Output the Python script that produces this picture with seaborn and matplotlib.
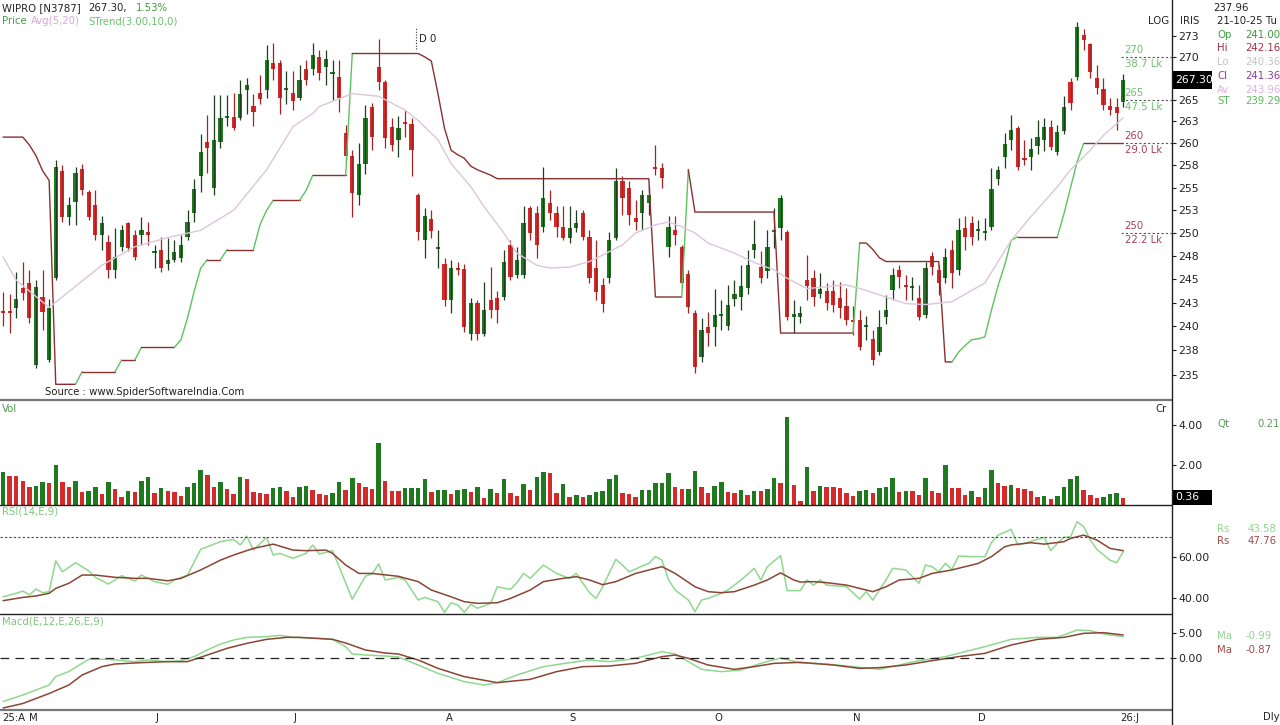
import matplotlib
matplotlib.use("Agg")
import matplotlib.pyplot as plt
from matplotlib.lines import Line2D
from matplotlib.patches import Rectangle
from matplotlib.ticker import NullLocator
import numpy as np
import seaborn as sns

# ---- daily candles, WIPRO, Apr-25 .. Dec-25 ----
opens = [241.6, 241.6, 241.9, 244.1, 244.6, 236.0, 243.1, 236.5, 245.1, 256.9,
         251.7, 253.4, 257.1, 254.5, 253.1, 249.8, 249.0, 246.0, 248.5, 251.1,
         249.8, 249.8, 250.1, 247.8, 248.2, 246.6, 247.1, 247.3, 249.6, 252.2,
         256.3, 260.1, 255.0, 260.1, 262.9, 263.0, 262.9, 266.1, 264.3, 265.8,
         266.1, 269.3, 269.3, 266.1, 265.8, 265.2, 268.6, 268.6, 270.0, 268.8,
         268.0, 267.6, 261.2, 258.5, 254.2, 257.6, 264.1, 268.8, 267.0, 261.8,
         260.4, 262.4, 262.2, 254.2, 249.2, 251.5, 248.3, 246.6, 242.8, 246.2,
         246.1, 239.2, 242.5, 239.2, 242.8, 243.0, 243.1, 248.7, 245.4, 245.4,
         252.8, 252.2, 250.7, 253.3, 252.2, 250.7, 249.5, 250.5, 252.2, 249.6,
         246.2, 244.4, 245.1, 249.5, 255.8, 255.0, 251.6, 252.2, 253.3, 257.3,
         257.2, 248.5, 250.3, 248.5, 245.6, 241.4, 236.8, 239.9, 239.9, 241.1,
         240.0, 242.9, 243.1, 244.1, 248.2, 246.3, 245.9, 250.1, 250.5, 250.1,
         241.0, 241.00, 244.9, 245.1, 243.4, 243.7, 243.7, 243.0, 242.2, 240.7,
         240.7, 239.9, 238.7, 237.3, 241.0, 243.8, 246.0, 244.4, 244.1, 243.0,
         241.2, 247.5, 246.0, 245.1, 248.2, 246.0, 250.5, 251.1, 250.2, 250.0,
         250.7, 256.0, 258.4, 260.4, 261.7, 258.3, 258.4, 259.7, 260.4, 261.9,
         259.0, 261.4, 267.1, 267.6, 272.6, 271.5, 267.5, 266.2, 264.3, 264.1,
         264.7]
highs = [243.6, 243.4, 245.8, 246.8, 246.0, 244.9, 246.0, 242.9, 258.1, 257.5,
         254.0, 257.3, 257.7, 254.7, 254.7, 251.9, 249.8, 250.5, 250.9, 251.2,
         250.3, 251.7, 251.2, 248.7, 249.6, 249.4, 249.2, 249.8, 252.5, 256.0,
         261.0, 263.2, 265.5, 265.5, 265.5, 265.8, 267.3, 267.5, 265.6, 267.9,
         271.4, 271.6, 269.6, 268.4, 268.4, 269.0, 269.6, 271.6, 270.8, 270.8,
         269.6, 269.6, 262.1, 259.2, 260.0, 264.4, 264.6, 272.1, 267.3, 262.9,
         263.1, 263.8, 262.9, 254.4, 252.8, 252.5, 250.3, 247.3, 247.1, 246.8,
         246.6, 243.0, 242.8, 244.7, 246.3, 243.7, 248.2, 249.2, 248.5, 253.0,
         253.0, 253.0, 257.3, 254.7, 253.0, 253.0, 253.0, 252.5, 252.5, 250.3,
         249.2, 245.1, 250.1, 257.2, 256.3, 255.8, 253.6, 254.7, 255.2, 259.8,
         257.8, 251.9, 251.9, 248.7, 246.0, 241.7, 240.9, 241.5, 243.9, 242.8,
         244.4, 244.9, 246.5, 248.2, 251.4, 248.0, 250.3, 252.7, 254.2, 250.3,
         242.8, 242.16, 247.6, 246.0, 245.7, 244.6, 244.9, 244.7, 244.1, 242.2,
         241.7, 241.1, 239.6, 241.7, 243.3, 246.2, 246.5, 245.5, 245.2, 244.4,
         246.8, 247.9, 246.5, 248.4, 249.2, 251.6, 251.9, 251.9, 251.4, 251.6,
         257.2, 257.4, 261.2, 263.2, 262.0, 260.4, 260.6, 262.6, 262.9, 262.6,
         262.1, 265.4, 267.5, 274.1, 273.3, 271.7, 269.0, 267.5, 265.2, 265.2,
         268.0]
lows = [240.0, 239.3, 240.9, 242.8, 240.4, 235.7, 239.6, 236.3, 244.9, 251.2,
        250.9, 250.9, 254.2, 251.4, 249.2, 248.2, 245.1, 245.1, 248.0, 248.0,
        247.1, 248.7, 248.7, 246.2, 245.8, 246.0, 246.9, 246.9, 249.2, 251.2,
        254.5, 256.6, 254.2, 259.5, 262.0, 261.5, 262.6, 263.4, 262.0, 264.5,
        265.2, 267.3, 263.4, 264.5, 263.8, 265.0, 266.7, 267.9, 267.3, 266.7,
        265.0, 263.6, 258.1, 251.8, 253.1, 256.5, 259.2, 266.1, 259.5, 259.1,
        258.4, 260.7, 256.3, 249.2, 247.3, 249.5, 246.2, 242.2, 241.4, 245.4,
        239.4, 238.6, 238.6, 239.0, 240.9, 240.4, 242.8, 244.9, 245.1, 245.1,
        249.2, 247.3, 250.1, 251.4, 249.6, 249.2, 248.9, 250.1, 249.2, 244.6,
        242.8, 241.5, 244.6, 249.2, 252.0, 250.9, 250.3, 250.3, 252.0, 256.4,
        255.0, 247.4, 248.7, 244.1, 241.4, 235.2, 236.3, 238.0, 238.0, 239.6,
        239.6, 242.2, 241.7, 243.4, 247.3, 244.6, 245.1, 248.4, 249.2, 240.7,
        239.3, 240.36, 242.8, 242.2, 243.0, 241.7, 241.5, 240.9, 240.1, 239.1,
        237.5, 238.6, 236.0, 237.0, 240.2, 242.8, 244.1, 242.8, 242.8, 240.7,
        240.9, 245.5, 243.3, 244.6, 244.1, 245.4, 248.2, 248.7, 249.2, 249.2,
        250.3, 255.3, 257.2, 259.2, 257.0, 257.5, 257.0, 258.8, 259.1, 259.2,
        258.7, 261.0, 263.8, 267.3, 270.8, 267.5, 265.6, 263.8, 263.2, 261.5,
        264.1]
closes = [241.4, 241.4, 242.9, 243.5, 240.9, 244.2, 241.5, 241.9, 257.3, 251.7,
          253.1, 256.6, 254.7, 251.8, 249.8, 251.1, 246.0, 247.4, 250.3, 248.4,
          247.4, 250.3, 249.8, 248.0, 246.2, 247.1, 247.9, 248.7, 251.2, 254.9,
          259.0, 259.5, 260.4, 262.9, 263.1, 261.7, 265.6, 266.7, 263.6, 265.1,
          269.6, 268.6, 265.2, 266.3, 264.8, 267.3, 267.3, 270.2, 268.1, 269.8,
          268.2, 265.2, 258.5, 254.4, 257.6, 262.9, 260.7, 267.0, 260.6, 259.8,
          261.7, 262.2, 259.2, 250.1, 251.9, 250.2, 248.5, 242.8, 246.2, 246.0,
          239.9, 242.5, 239.2, 241.7, 241.7, 241.7, 246.8, 245.2, 247.1, 251.1,
          250.0, 248.7, 253.9, 252.2, 250.7, 249.5, 250.5, 251.1, 249.6, 245.1,
          243.6, 242.4, 249.2, 255.8, 253.9, 252.0, 251.2, 254.2, 254.2, 257.1,
          256.1, 250.6, 249.8, 244.6, 242.0, 235.8, 239.6, 239.3, 241.2, 241.3,
          242.3, 243.4, 244.3, 246.5, 248.8, 245.1, 248.5, 250.3, 253.9, 241.0,
          241.3, 241.36, 244.3, 243.1, 243.9, 242.5, 242.3, 241.9, 240.7, 240.5,
          237.8, 240.1, 236.5, 239.9, 241.7, 245.4, 245.2, 244.2, 244.3, 241.0,
          246.2, 246.3, 244.6, 247.4, 245.7, 250.3, 249.6, 249.6, 250.4, 250.2,
          254.8, 257.0, 259.9, 261.5, 257.3, 258.1, 259.4, 260.7, 261.9, 259.6,
          261.3, 264.2, 264.6, 273.5, 272.0, 268.2, 266.3, 264.4, 263.8, 263.5,
          267.3]
volume = [1.67, 1.47, 1.45, 1.22, 0.92, 0.94, 1.17, 1.08, 2.00, 1.17,
          0.92, 1.22, 0.67, 0.72, 0.92, 0.55, 1.17, 0.80, 0.42, 0.72,
          0.63, 1.22, 1.38, 0.58, 0.85, 0.68, 0.67, 0.47, 0.92, 1.08,
          1.77, 1.52, 0.92, 1.13, 0.80, 0.55, 1.42, 1.30, 0.63, 0.62,
          0.55, 0.85, 0.88, 0.72, 0.42, 0.92, 0.93, 0.75, 0.55, 0.50,
          0.58, 1.17, 0.75, 1.35, 1.08, 0.92, 0.80, 3.08, 1.22, 0.72,
          0.70, 0.85, 0.86, 0.87, 1.30, 0.63, 0.75, 0.76, 0.55, 0.75,
          0.80, 0.63, 0.92, 0.33, 0.80, 0.58, 1.30, 0.58, 0.43, 1.05,
          0.75, 1.38, 1.67, 1.58, 0.58, 1.05, 0.38, 0.50, 0.38, 0.52,
          0.63, 0.68, 1.30, 1.52, 0.58, 0.57, 0.38, 0.75, 0.76, 1.08,
          1.09, 1.58, 0.92, 0.80, 0.81, 1.72, 0.92, 0.58, 0.93, 1.13,
          0.63, 0.62, 0.75, 0.50, 0.72, 0.71, 0.80, 1.35, 1.08, 4.38,
          1.00, 0.21, 1.88, 0.72, 0.97, 0.92, 0.91, 0.85, 0.58, 0.47,
          0.72, 0.73, 0.58, 0.85, 0.88, 1.33, 0.63, 0.72, 0.68, 0.50,
          1.33, 0.68, 0.58, 2.00, 0.85, 0.84, 0.52, 0.72, 0.38, 0.85,
          1.77, 1.08, 0.97, 1.00, 0.85, 0.80, 0.68, 0.42, 0.43, 0.30,
          0.47, 0.88, 1.30, 1.47, 0.75, 0.50, 0.35, 0.42, 0.55, 0.58,
          0.36]

# supertrend(3,10) value under each candle
supertrend = [260.7, 260.7, 260.7, 260.7, 259.8, 258.6, 256.9, 255.8, 234.0, 234.0,
              234.0, 234.0, 235.3, 235.3, 235.3, 235.3, 235.3, 235.3, 236.5, 236.5,
              236.5, 237.8, 237.8, 237.8, 237.8, 237.8, 237.8, 238.6, 240.9, 243.7,
              246.2, 247.1, 247.1, 247.1, 248.2, 248.2, 248.2, 248.2, 248.2, 250.9,
              252.5, 253.6, 253.6, 253.6, 253.6, 253.6, 254.7, 256.4, 256.4, 256.4,
              256.4, 256.4, 256.4, 270.4, 270.4, 270.4, 270.4, 270.4, 270.4, 270.4,
              270.4, 270.4, 270.4, 270.4, 270.0, 269.5, 265.7, 261.7, 259.2, 258.7,
              258.3, 257.4, 257.0, 256.7, 256.4, 256.0, 256.0, 256.0, 256.0, 256.0,
              256.0, 256.0, 256.0, 256.0, 256.0, 256.0, 256.0, 256.0, 256.0, 256.0,
              256.0, 256.0, 256.0, 256.0, 256.0, 256.0, 256.0, 256.0, 256.0, 243.1,
              243.1, 243.1, 243.1, 243.1, 257.0, 252.3, 252.3, 252.3, 252.3, 252.3,
              252.3, 252.3, 252.3, 252.3, 252.3, 252.3, 252.3, 252.3, 239.3, 239.3,
              239.3, 239.3, 239.3, 239.3, 239.3, 239.3, 239.3, 239.3, 239.3, 239.3,
              248.9, 248.9, 248.2, 247.3, 246.9, 246.9, 246.9, 246.9, 246.9, 246.9,
              246.9, 246.9, 246.9, 236.3, 236.3, 237.3, 238.0, 238.6, 238.7, 238.9,
              241.7, 244.3, 246.5, 249.2, 249.6, 249.6, 249.6, 249.6, 249.6, 249.6,
              249.6, 252.1, 255.0, 257.9, 260.0, 260.0, 260.0, 260.0, 260.0, 260.0,
              260.0]

# Avg(5,20) read at selected candles
avg_idx = [0, 2, 7, 15, 20, 25, 30, 35, 40, 44, 47, 48, 53, 57, 61, 63, 66, 68, 71, 73,
           76, 78, 81, 83, 86, 89, 91, 94, 96, 99, 101, 103, 105, 107, 111, 114, 117, 119,
           122, 125, 128, 131, 134, 137, 140, 144, 149, 153, 156, 160, 162, 165, 167, 170]
avg_val = [247.4, 244.9, 242.0, 246.5, 248.5, 249.5, 250.3, 252.5, 257.0, 261.9,
           263.4, 264.2, 265.7, 265.4, 263.8, 262.6, 260.4, 257.7, 255.1, 252.9,
           250.0, 247.8, 246.5, 246.2, 246.3, 246.9, 247.6, 248.7, 250.0, 250.9,
           251.2, 250.7, 250.0, 248.9, 247.8, 246.8, 246.0, 245.1, 244.0, 244.2,
           244.4, 243.8, 243.1, 242.4, 242.3, 242.6, 244.6, 249.2, 251.8, 255.1,
           257.0, 259.2, 260.9, 262.9]

# RSI(14) and its signal
rsi_idx = [0, 2, 3, 4, 5, 6, 7, 8, 9, 11, 13, 14, 16, 18, 20, 21, 23, 25, 26, 28,
           30, 31, 33, 35, 36, 37, 38, 40, 41, 42, 44, 46, 47, 48, 50, 51, 53, 55, 56, 57,
           58, 60, 61, 63, 64, 66, 67, 68, 69, 70, 71, 72, 74, 75, 77, 78, 79, 80, 82, 84,
           86, 87, 88, 89, 90, 91, 93, 94, 95, 97, 98, 99, 100, 101, 102, 104, 105, 106, 107, 109,
           110, 112, 114, 115, 116, 118, 119, 121, 122, 123, 124, 125, 128, 130, 131, 132, 134, 135, 137, 139,
           140, 141, 142, 143, 144, 145, 147, 149, 150, 151, 153, 154, 155, 158, 159, 160, 161, 162, 163, 164,
           165, 166, 168, 169, 170]
rsi_val = [40.6, 42.3, 43.4, 41.5, 44.4, 42.6, 43.1, 58.2, 52.8, 57.2,
           53.3, 50.1, 46.8, 50.9, 48.3, 51.2, 48.0, 46.7, 48.8, 51.2,
           63.8, 65.0, 67.5, 68.6, 65.9, 70.2, 63.4, 69.6, 61.0, 61.8,
           59.4, 61.8, 65.9, 61.5, 63.1, 55.3, 39.4, 50.7, 51.7, 56.6,
           48.8, 50.0, 48.8, 39.0, 40.3, 38.2, 33.0, 37.7, 36.6, 33.0,
           36.9, 35.0, 37.4, 45.5, 44.2, 47.5, 52.0, 49.6, 56.1, 52.0,
           49.6, 52.0, 47.2, 42.6, 39.8, 45.5, 58.9, 56.1, 52.8, 55.6,
           56.9, 60.2, 58.5, 48.8, 43.9, 39.0, 33.3, 39.0, 39.8, 42.3,
           43.9, 48.8, 54.5, 48.8, 55.3, 60.7, 43.6, 43.6, 48.8, 46.3,
           48.8, 46.3, 45.5, 39.5, 43.1, 39.0, 48.8, 54.5, 53.7, 47.2,
           56.1, 55.3, 52.8, 56.9, 54.0, 60.5, 60.2, 60.2, 67.0, 70.7,
           73.5, 65.9, 66.7, 69.6, 63.1, 66.7, 69.6, 69.9, 77.2, 74.8,
           68.3, 63.7, 58.5, 57.2, 62.6]
rsig_idx = [0, 3, 5, 7, 8, 10, 12, 14, 17, 20, 22, 25, 27, 30, 33, 35, 38, 41, 44, 46,
            49, 50, 52, 54, 56, 60, 63, 65, 68, 70, 72, 75, 77, 80, 82, 85, 87, 89, 91, 93,
            96, 99, 100, 102, 105, 107, 109, 111, 114, 116, 118, 120, 121, 123, 125, 128, 130, 132, 134, 136,
            139, 141, 144, 146, 148, 150, 152, 153, 156, 158, 161, 162, 164, 166, 168, 170]
rsig_val = [38.7, 40.3, 41.0, 42.3, 44.7, 47.2, 51.2, 51.2, 50.1, 49.6,
            49.6, 48.4, 49.6, 53.7, 58.5, 61.0, 64.2, 66.3, 63.4, 63.1,
            63.4, 61.8, 56.1, 52.0, 52.0, 50.6, 48.0, 43.9, 40.6, 38.2,
            37.4, 37.7, 39.8, 43.9, 48.0, 49.6, 50.4, 48.8, 46.5, 48.0,
            52.0, 54.5, 55.3, 52.0, 45.5, 43.1, 42.6, 43.1, 46.3, 48.8,
            52.3, 48.8, 47.8, 48.0, 47.5, 46.3, 44.7, 43.1, 45.5, 48.8,
            49.6, 52.0, 53.7, 55.3, 56.9, 60.2, 65.0, 65.9, 67.0, 66.3,
            67.5, 69.1, 70.7, 68.3, 64.2, 63.1]

# MACD(12,26,9) and signal
macd_idx = [0, 3, 5, 7, 8, 10, 12, 13, 16, 20, 22, 25, 27, 29, 31, 33, 35, 37, 40, 42,
            44, 48, 50, 52, 53, 55, 58, 60, 63, 66, 70, 73, 75, 78, 82, 86, 89, 92, 95, 97,
            100, 102, 104, 106, 109, 112, 115, 118, 121, 125, 129, 133, 136, 139, 143, 146, 149, 153, 157, 160,
            163, 165, 167, 170]
macd_val = [-8.7, -7.4, -6.4, -5.4, -3.7, -2.7, -1.07, -0.27, -0.27, -0.73,
            -0.4, -0.73, -0.53, 0.27, 1.6, 2.8, 3.6, 4.13, 4.27, 4.53,
            4.13, 3.93, 3.73, 2.27, 0.8, 0.6, 0.4, 0.2, -1.4, -3.07,
            -4.73, -5.4, -4.93, -3.4, -1.73, -0.93, -0.4, -0.73, -0.27, 0.27,
            1.27, 0.8, -0.73, -2.27, -2.73, -2.4, -1.07, 0.0, -0.99, -1.2,
            -1.73, -2.27, -1.4, -0.53, 0.27, 1.27, 2.27, 3.73, 4.13, 4.13,
            5.6, 5.47, 4.8, 4.27]
msig_idx = [0, 3, 5, 7, 10, 12, 15, 17, 21, 25, 28, 31, 34, 37, 40, 43, 45, 50, 52, 55,
            58, 60, 63, 66, 70, 75, 80, 84, 88, 92, 96, 100, 102, 104, 107, 111, 114, 117, 121, 126,
            130, 133, 137, 141, 145, 149, 153, 157, 161, 164, 167, 170]
msig_val = [-10.0, -9.1, -8.1, -7.1, -5.4, -3.4, -1.73, -1.2, -0.93, -0.73,
            -0.73, 0.6, 1.93, 2.93, 3.73, 4.13, 4.13, 3.73, 3.0, 1.6,
            1.0, 0.8, -0.4, -2.07, -3.73, -4.93, -4.27, -2.73, -1.73, -1.6,
            -1.07, 0.27, 0.6, -0.07, -1.4, -2.27, -1.73, -1.07, -0.87, -1.4,
            -2.07, -1.93, -1.4, -0.53, 0.27, 0.93, 2.6, 3.73, 4.13, 4.93,
            5.07, 4.6]

month_pos = [1.7, 4.6, 23.4, 44.3, 67.7, 86.5, 108.5, 129.6, 148.6, 171.0]
month_lab = ["25:A", "M", "J", "J", "A", "S", "O", "N", "D", "26:J"]

price_ticks = [235, 237.5, 240, 242.5, 245, 247.5, 250, 252.5, 255, 257.5, 260, 262.5, 265, 270, 272.5]
price_labels = ["235", "238", "240", "243", "245", "248", "250", "253", "255", "258",
                "260", "263", "265", "270", "273"]

levels = [270, 265, 260, 250]
level_qty = ["38.7 Lk", "47.5 Lk", "29.0 Lk", "22.2 Lk"]

info_lab = ["Op", "Hi", "Lo", "Cl", "Av", "ST"]
info_val = ["241.00", "242.16", "240.36", "241.36", "243.96", "239.29"]

# ---- styling ----
sns.set_style("white")
plt.rcParams['font.family'] = ['DejaVu Sans']
FS = 7.3
GREEN, RED = '#1f7a1f', '#d42a2a'
ST_UP, ST_DN = '#5cc45c', '#8b2f2f'
LT_GREEN, BROWN = '#8fd88f', '#8b4535'

W, H = 1280, 725
fig = plt.figure(figsize=(W / 100, H / 100), dpi=100)
fig.patch.set_facecolor('white')


def panel(top, bottom):
    return fig.add_axes([0, 1 - bottom / H, 1172 / W, (bottom - top) / H])


def put(x, y, s, color='#222222', size=FS, ha='left', **kw):
    fig.text(x / W, 1 - y / H, s, color=color, fontsize=size, ha=ha, va='center', **kw)


ax_p = panel(0, 400)
ax_v = panel(400, 505)
ax_r = panel(505, 614)
ax_m = panel(614, 710)

n = len(closes)
xs = np.arange(n)
o, h, l, c = (np.array(a) for a in (opens, highs, lows, closes))
up = c >= o
cols = np.where(up, GREEN, RED)
wick_cols = np.where(up, '#1e3e1e', '#a82020')

# price panel
ax_p.set_yscale('log')
ax_p.vlines(xs, l, h, colors=wick_cols, lw=0.9)
ax_p.bar(xs, np.maximum(np.abs(c - o), 0.12), bottom=np.minimum(o, c),
         width=0.64, color=cols, linewidth=0)

st = np.array(supertrend)
rising = np.diff(st) > 0
start = 0
for k in range(1, len(rising) + 1):
    if k == len(rising) or rising[k] != rising[start]:
        ax_p.plot(xs[start:k + 1], st[start:k + 1],
                  color=ST_UP if rising[start] else ST_DN, lw=1.0)
        start = k

sns.lineplot(x=avg_idx, y=avg_val, ax=ax_p, color='#dcc6dc', lw=1.0,
             estimator=None, sort=False)

for lv, q in zip(levels, level_qty):
    clr = '#6cc06c' if lv >= 265 else '#a8405a'
    ax_p.hlines(lv, 169.6, 177.4, colors='#555555', lw=0.8, linestyles=(0, (2, 2)))
    ax_p.annotate(str(lv), (170.2, lv), xytext=(0, 1.5), textcoords='offset points',
                  color=clr, fontsize=FS, va='bottom')
    ax_p.annotate(q, (170.2, lv), xytext=(0, -1.5), textcoords='offset points',
                  color=clr, fontsize=FS, va='top')

ax_p.vlines(62.7, 270.9, 273.4, colors='#333333', lw=0.8, linestyles=(0, (1, 1.5)))
ax_p.text(63.1, 272.1, "D 0", fontsize=FS, va='center', color='#222222')

ax_p.set_ylim(232.4, 276.8)
ax_p.yaxis.set_minor_locator(NullLocator())
ax_p.set_yticks(price_ticks)
ax_p.set_yticklabels(price_labels)

# volume panel
vol = np.array(volume)
vcols = [GREEN] + [GREEN if vol[i] >= vol[i - 1] else RED for i in range(1, n)]
ax_v.bar(xs, vol, width=0.68, color=vcols, linewidth=0)
ax_v.set_ylim(0, 5.25)
ax_v.set_yticks([2, 4])
ax_v.set_yticklabels(["2.00", "4.00"])

# RSI panel
sns.lineplot(x=rsi_idx, y=rsi_val, ax=ax_r, color=LT_GREEN, lw=1.1, estimator=None, sort=False)
sns.lineplot(x=rsig_idx, y=rsig_val, ax=ax_r, color=BROWN, lw=1.1, estimator=None, sort=False)
ax_r.axhline(70, color='#444444', lw=0.8, ls=(0, (2, 2)))
ax_r.set_ylim(32.2, 85.4)
ax_r.set_yticks([40, 60])
ax_r.set_yticklabels(["40.00", "60.00"])

# MACD panel
sns.lineplot(x=macd_idx, y=macd_val, ax=ax_m, color=LT_GREEN, lw=1.1, estimator=None, sort=False)
sns.lineplot(x=msig_idx, y=msig_val, ax=ax_m, color=BROWN, lw=1.1, estimator=None, sort=False)
ax_m.axhline(0, color='#222222', lw=0.9, ls=(0, (7, 5)))
ax_m.set_ylim(-10.4, 8.8)
ax_m.set_yticks([0, 5])
ax_m.set_yticklabels(["0.00", "5.00"])

for ax in (ax_p, ax_v, ax_r, ax_m):
    ax.set_xlim(-0.46, 177.4)
    ax.set_facecolor('none')
    ax.set_xlabel('')
    ax.set_ylabel('')
    for sp in ax.spines.values():
        sp.set_visible(False)
    ax.yaxis.tick_right()
    ax.tick_params(axis='y', which='both', direction='out', length=3, width=0.8,
                   pad=1.5, labelsize=7.8, colors='#222222')
    ax.tick_params(axis='x', bottom=False, labelbottom=False)

ax_m.set_xticks(month_pos)
ax_m.set_xticklabels(month_lab)
ax_m.tick_params(axis='x', bottom=True, labelbottom=True, length=0, pad=2.5,
                 labelsize=FS, colors='#222222')

# frame lines
for y, clr, lw in ((400, '#777777', 1.6), (505, '#222222', 1.0),
                   (614, '#222222', 1.0), (710, '#777777', 1.6)):
    fig.add_artist(Line2D([0, 1172 / W], [1 - y / H] * 2, color=clr, lw=lw))
fig.add_artist(Line2D([1172 / W] * 2, [0, 1], color='#222222', lw=1.0))

# header texts
put(2, 8, "WIPRO [N3787]")
put(88, 8, "267.30,")
put(136, 8, "1.53%", color='#3e9a3e')
put(2, 21, "Price", color='#4a9a4a')
put(31, 21, "Avg(5,20)", color='#d8a8d8')
put(88, 21, "STrend(3.00,10,0)", color='#6cc06c')
put(45, 392, "Source : www.SpiderSoftwareIndia.Com")
put(2, 409, "Vol", color='#4a9a4a')
put(1155, 409, "Cr")
put(2, 512, "RSI(14,E,9)", color='#7cc87c')
put(2, 622, "Macd(E,12,E,26,E,9)", color='#7cc87c')

# right info column
put(1231, 8, "237.96", ha='center')
put(1148, 21, "LOG")
put(1180, 21, "IRIS")
put(1217, 21, "21-10-25 Tu")
info_col = ['#3a9a3a', '#a03040', '#c4c4c4', '#8a3c9a', '#e0b0e0', '#5cb85c']
for lab, val, clr, y in zip(info_lab, info_val, info_col, [35, 48, 62, 76, 90, 101]):
    put(1217, y, lab, color=clr)
    put(1245, y, val, color=clr)

put(1217, 424, "Qt", color='#5a9a5a')
put(1257, 424, "0.21", color='#5a9a5a')
put(1217, 529, "Rs", color=LT_GREEN)
put(1248, 529, "43.58", color=LT_GREEN)
put(1217, 541, "Rs", color='#a04a4a')
put(1248, 541, "47.76", color='#a04a4a')
put(1217, 636, "Ma", color=LT_GREEN)
put(1246, 636, "-0.99", color=LT_GREEN)
put(1217, 650, "Ma", color='#a04a4a')
put(1246, 650, "-0.87", color='#a04a4a')
put(1263, 717, "Dly")

for top, bot, txt in ((71, 89, "267.30"), (490, 505, "0.36")):
    fig.add_artist(Rectangle((1173 / W, 1 - bot / H), 39 / W, (bot - top) / H,
                             transform=fig.transFigure, facecolor='black', edgecolor='none'))
    put(1175, (top + bot) / 2, txt, color='white', size=7.8)

fig.savefig("out.png", dpi=100, facecolor='white')
